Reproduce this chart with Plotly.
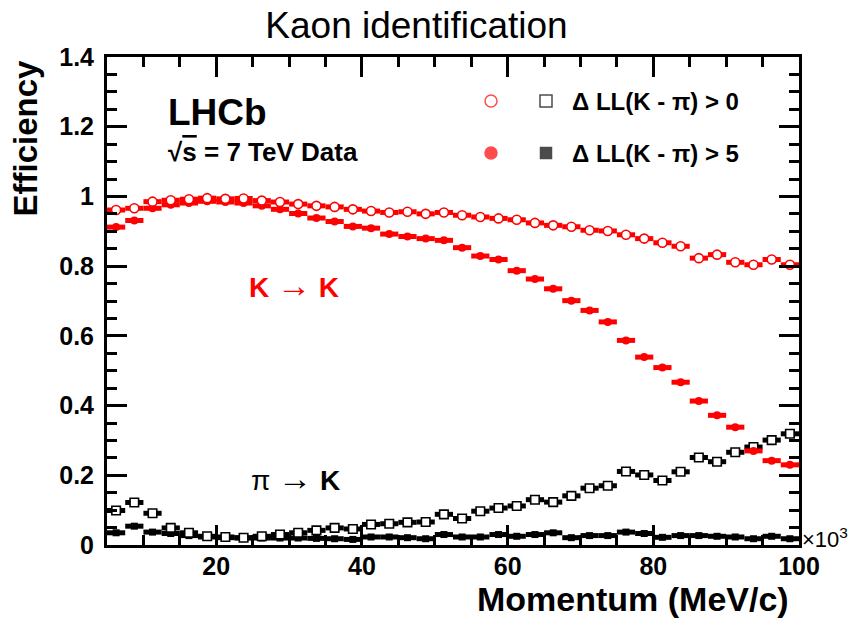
import numpy as np
import plotly.graph_objects as go

# Momentum bins (x10^3 MeV/c), 2.5 wide from 5 to 100
bin_edges = np.arange(5.0, 100.0 + 1e-9, 2.5)
momentum = 0.5 * (bin_edges[:-1] + bin_edges[1:])
half_width = 0.5 * np.diff(bin_edges)

# K -> K efficiency
kk_dll0 = [0.961, 0.966, 0.985, 0.989, 0.992, 0.995, 0.993, 0.994, 0.988, 0.984,
           0.978, 0.973, 0.970, 0.963, 0.958, 0.954, 0.956, 0.950, 0.954, 0.946,
           0.941, 0.937, 0.933, 0.924, 0.917, 0.913, 0.903, 0.901, 0.890, 0.879,
           0.867, 0.857, 0.823, 0.833, 0.811, 0.804, 0.819, 0.804]
kk_dll5 = [0.912, 0.931, 0.966, 0.976, 0.981, 0.986, 0.984, 0.981, 0.973, 0.963,
           0.951, 0.938, 0.928, 0.914, 0.909, 0.892, 0.885, 0.879, 0.874, 0.853,
           0.829, 0.819, 0.787, 0.763, 0.735, 0.701, 0.673, 0.640, 0.587, 0.539,
           0.509, 0.467, 0.413, 0.372, 0.338, 0.270, 0.242, 0.230]

# pi -> K misidentification
pik_dll0 = [0.099, 0.122, 0.091, 0.049, 0.035, 0.025, 0.023, 0.021, 0.025, 0.030,
            0.035, 0.042, 0.049, 0.046, 0.059, 0.061, 0.065, 0.066, 0.088, 0.076,
            0.097, 0.106, 0.112, 0.130, 0.123, 0.141, 0.163, 0.170, 0.211, 0.201,
            0.185, 0.210, 0.251, 0.239, 0.266, 0.281, 0.301, 0.319]
pik_dll5 = [0.035, 0.054, 0.037, 0.033, 0.027, 0.023, 0.021, 0.020, 0.020, 0.020,
            0.020, 0.019, 0.018, 0.016, 0.023, 0.023, 0.021, 0.018, 0.030, 0.023,
            0.023, 0.030, 0.025, 0.030, 0.035, 0.021, 0.027, 0.027, 0.037, 0.033,
            0.022, 0.027, 0.027, 0.025, 0.023, 0.018, 0.025, 0.018]

x_ticks = [20, 40, 60, 80, 100]
y_ticks = [0, 0.2, 0.4, 0.6, 0.8, 1.0, 1.2, 1.4]

RED = "#ff0000"
BLACK = "#000000"
FONT = "Liberation Sans, Arial, Helvetica, sans-serif"

# plot-area geometry in pixels (850 x 622 page)
W, H = 850, 622
L, R, T, B = 107, 51, 57, 77
PW, PH = W - L - R, H - T - B


def px(x):
    return (x - L) / PW


def py(y):
    return (H - B - y) / PH


def series(y, symbol, color, size, lw, fill):
    return go.Scatter(
        x=momentum, y=y, mode="markers",
        marker=dict(symbol=symbol, size=size, color=fill,
                    line=dict(color=color, width=lw)),
        error_x=dict(type="data", array=half_width, color=color,
                     thickness=5, width=0),
        showlegend=False, hoverinfo="x+y",
    )


fig = go.Figure()
fig.add_trace(series(pik_dll5, "square", BLACK, 7, 0, BLACK))
fig.add_trace(series(pik_dll0, "square", BLACK, 8.5, 1.6, "white"))
fig.add_trace(series(kk_dll5, "circle", RED, 8, 0, RED))
fig.add_trace(series(kk_dll0, "circle", RED, 9, 1.6, "white"))

# legend glyphs on an overlay axis spanning the plot area
leg_x = [px(491), px(546), px(491), px(546)]
leg_y = [py(101), py(101), py(153), py(153)]
fig.add_trace(go.Scatter(
    x=leg_x, y=leg_y, mode="markers", xaxis="x2", yaxis="y2",
    marker=dict(symbol=["circle", "square", "circle", "square"],
                size=[12, 12, 12, 11],
                color=["white", "white", RED, BLACK],
                line=dict(color=[RED, BLACK, RED, BLACK], width=1.5)),
    showlegend=False, hoverinfo="skip",
))

axis_common = dict(
    showline=True, linecolor="black", linewidth=3, mirror="allticks",
    ticks="inside", ticklen=20, tickwidth=3, tickcolor="black",
    showgrid=False, zeroline=False,
    tickfont=dict(family=FONT, size=25, color="black", weight="bold"),
)

fig.update_layout(
    width=W, height=H,
    margin=dict(l=L, r=R, t=T, b=B),
    paper_bgcolor="white", plot_bgcolor="white",
    title=dict(text="Kaon identification", x=0.49, xanchor="center",
               y=1 - 25 / H, yanchor="middle",
               font=dict(family=FONT, size=37, color="black")),
    xaxis=dict(range=[5, 100], tickvals=x_ticks, ticklabelstandoff=-3,
               minor=dict(dtick=5, tick0=0, ticks="inside", ticklen=10,
                          tickwidth=3, tickcolor="black"),
               **axis_common),
    yaxis=dict(range=[0, 1.4], tickvals=y_ticks, ticklabelstandoff=5,
               minor=dict(dtick=0.05, tick0=0, ticks="inside", ticklen=10,
                          tickwidth=3, tickcolor="black"),
               **axis_common),
    xaxis2=dict(range=[0, 1], overlaying="x", visible=False),
    yaxis2=dict(range=[0, 1], overlaying="y", visible=False),
)


def label(text, x, y, size, color="black", bold=True, xanchor="left",
          yanchor="middle", angle=0):
    fig.add_annotation(
        text=text, x=x, y=y, xref="paper", yref="paper",
        xanchor=xanchor, yanchor=yanchor, textangle=angle, showarrow=False,
        font=dict(family=FONT, size=size, color=color,
                  weight="bold" if bold else "normal"),
    )


ARROW = '<span style="font-size:34px">→</span>'

label("Momentum (MeV/c)", px(791), py(599), 34, xanchor="right")
label("Efficiency", px(25), py(58), 33, xanchor="center", yanchor="top",
      angle=-90)
label("×10<sup>3</sup>", px(800), py(538), 22, bold=False)

label("LHCb", px(166), py(112), 37)
label('√<span style="text-decoration:overline">s</span> = 7 TeV Data',
      px(166), py(152), 26)

label("Δ LL(K - π) > 0", px(570), py(101), 24)
label("Δ LL(K - π) > 5", px(570), py(153), 24)

label("K " + ARROW + " K", px(247), py(285), 28, color=RED)
label("π " + ARROW + " <b>K</b>", px(249), py(478), 28, bold=False)

fig.write_html("out.html")
